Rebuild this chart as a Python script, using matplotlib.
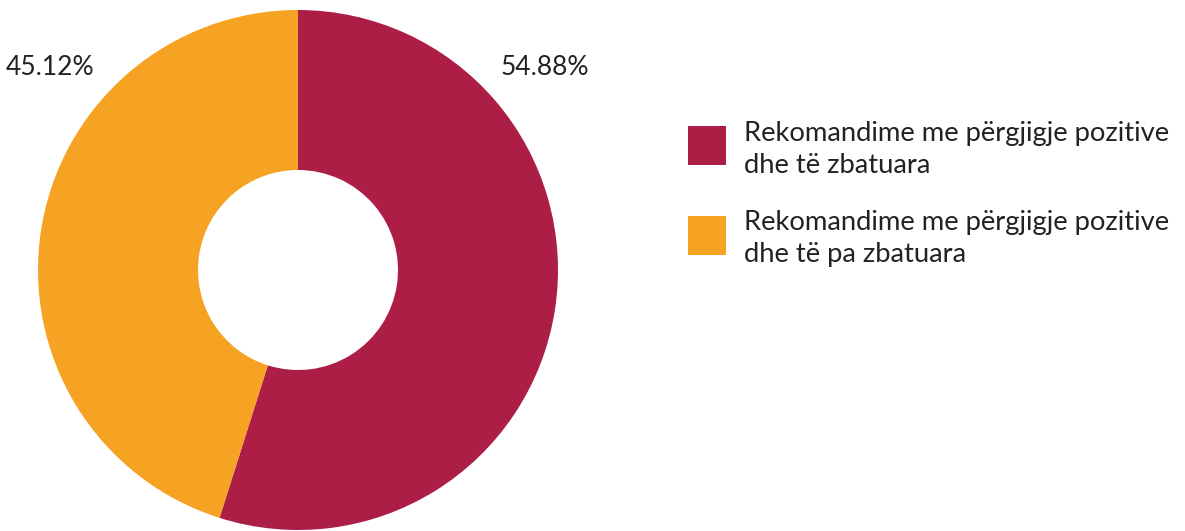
import matplotlib.pyplot as plt
from matplotlib.patches import Patch, Rectangle
from matplotlib.legend_handler import HandlerPatch

labels = ['Rekomandime me përgjigje pozitive\ndhe të zbatuara',
          'Rekomandime me përgjigje pozitive\ndhe të pa zbatuara']
values = [54.88, 45.12]
colors = ['#AD1E46', '#F6A222']

plt.rcParams['font.family'] = ['Lato', 'DejaVu Sans']


def top_square(legend, orig_handle, xdescent, ydescent, width, height, fontsize):
    # square handle aligned with the first text line
    return Rectangle((-xdescent, -ydescent + height - width), width, width)


fig = plt.figure(figsize=(11.85, 5.31), dpi=100)
ax = fig.add_axes([38 / 1185, 1 / 531, 520 / 1185, 520 / 531])
ax.pie(values, colors=colors, startangle=90, counterclock=False,
       radius=1, wedgeprops=dict(width=1 - 100 / 260, linewidth=0))
ax.set_xlim(-1, 1)
ax.set_ylim(-1, 1)
ax.set_aspect('equal')

# percentage labels above the ring
ax.text(0.95, 0.777, f'{values[0]:.2f}%', ha='center', va='center',
        fontsize=19, color='#222222', clip_on=False)
ax.text(-0.954, 0.777, f'{values[1]:.2f}%', ha='center', va='center',
        fontsize=19, color='#222222', clip_on=False)

handles = [Patch(facecolor=c, edgecolor='none') for c in colors]
leg = fig.legend(handles, labels, loc='upper left', bbox_to_anchor=(663 / 1185, 1 - 96 / 531),
                 frameon=False, fontsize=19.7, handlelength=1.42, handleheight=2.4,
                 handletextpad=0.65, labelspacing=1.2, labelcolor='#222222',
                 handler_map={Patch: HandlerPatch(patch_func=top_square)})
for t in leg.get_texts():
    t.set_linespacing(1.35)

fig.savefig('out.png', dpi=100)
